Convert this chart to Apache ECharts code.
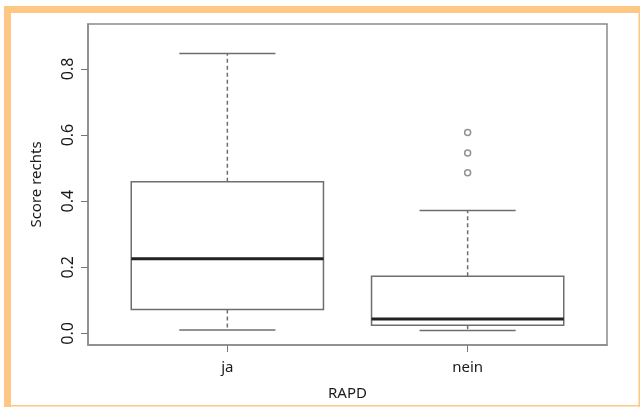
<!DOCTYPE html>
<html>
<head>
<meta charset="utf-8">
<style>
  html, body { margin: 0; padding: 0; background: #fff; }
  #main { width: 640px; height: 407px; }
</style>
<script src="https://cdn.jsdelivr.net/npm/echarts@6/dist/echarts.min.js"></script>
</head>
<body>
<div id="main"></div>
<script>
// 数据：两组箱线图（RAPD ja / nein）
const categories = ['ja', 'nein'];
const positions = [1, 2];
const lowerWhisker = [0.010, 0.009];
const q1 = [0.0725, 0.025];
const median = [0.226, 0.044];
const q3 = [0.459, 0.173];
const upperWhisker = [0.847, 0.372];
const outliers = [[], [0.608, 0.546, 0.486]];
const yTicks = [0, 0.2, 0.4, 0.6, 0.8];

const boxData = positions.map((p, i) => [p, lowerWhisker[i], q1[i], median[i], q3[i], upperWhisker[i]]);
const outlierData = [];
outliers.forEach((list, i) => list.forEach(v => outlierData.push([positions[i], v])));

const orange = '#fec784';
const lineGray = '#6e6e6e';

function renderBox(params, api) {
    const x = api.value(0);
    const lo = api.value(1), a = api.value(2), m = api.value(3), b = api.value(4), hi = api.value(5);
    const half = 0.4, cap = 0.2;
    const pL = api.coord([x - half, b]);
    const pR = api.coord([x + half, a]);
    const c = (xx, yy) => api.coord([xx, yy]);
    const solid = { stroke: lineGray, lineWidth: 1.5, fill: null };
    const dashed = { stroke: lineGray, lineWidth: 1.5, lineDash: [4, 3] };
    return {
        type: 'group',
        children: [
            { type: 'line', shape: { x1: c(x, b)[0], y1: c(x, b)[1], x2: c(x, hi)[0], y2: c(x, hi)[1] }, style: dashed },
            { type: 'line', shape: { x1: c(x, a)[0], y1: c(x, a)[1], x2: c(x, lo)[0], y2: c(x, lo)[1] }, style: dashed },
            { type: 'line', shape: { x1: c(x - cap, hi)[0], y1: c(x - cap, hi)[1], x2: c(x + cap, hi)[0], y2: c(x + cap, hi)[1] }, style: solid },
            { type: 'line', shape: { x1: c(x - cap, lo)[0], y1: c(x - cap, lo)[1], x2: c(x + cap, lo)[0], y2: c(x + cap, lo)[1] }, style: solid },
            { type: 'rect', shape: { x: pL[0], y: pL[1], width: pR[0] - pL[0], height: pR[1] - pL[1] }, style: { stroke: lineGray, lineWidth: 1.5, fill: '#fff' } },
            { type: 'line', shape: { x1: c(x - half, m)[0], y1: c(x - half, m)[1], x2: c(x + half, m)[0], y2: c(x + half, m)[1] }, style: { stroke: '#222', lineWidth: 3 } }
        ]
    };
}

function initChart() {
    const myChart = echarts.init(document.getElementById('main'));
    const option = {
        backgroundColor: '#fff',
        animation: false,
        textStyle: { fontFamily: 'Noto Sans' },
        graphic: [
            { type: 'rect', shape: { x: 4, y: 6, width: 636, height: 7 }, style: { fill: orange } },
            { type: 'rect', shape: { x: 4, y: 6, width: 7, height: 401 }, style: { fill: orange } },
            { type: 'rect', shape: { x: 638.5, y: 6, width: 1.5, height: 401 }, style: { fill: orange } },
            { type: 'rect', shape: { x: 4, y: 405, width: 636, height: 1.5 }, style: { fill: orange } }
        ],
        grid: {
            left: 88, right: 33, top: 24, bottom: 62,
            show: true, borderColor: '#8a8a8a', borderWidth: 1.5
        },
        xAxis: {
            type: 'value',
            min: 0.42, max: 2.58,
            name: 'RAPD',
            nameLocation: 'middle',
            nameGap: 41,
            nameTextStyle: { color: '#1a1a1a', fontSize: 15 },
            splitLine: { show: false },
            axisLine: { show: true, onZero: false, lineStyle: { color: '#8a8a8a', width: 1.5 } },
            axisTick: { show: true, customValues: positions, length: 7, lineStyle: { color: '#777' } },
            axisLabel: {
                customValues: positions,
                color: '#1a1a1a', fontSize: 15, margin: 15,
                formatter: v => categories[positions.indexOf(Math.round(v))] || ''
            }
        },
        yAxis: {
            type: 'value',
            min: -0.035, max: 0.936,
            name: 'Score rechts',
            nameLocation: 'middle',
            nameRotate: 90,
            nameGap: 44,
            nameTextStyle: { color: '#1a1a1a', fontSize: 15 },
            splitLine: { show: false },
            axisLine: { show: true, onZero: false, lineStyle: { color: '#8a8a8a', width: 1.5 } },
            axisTick: { show: true, customValues: yTicks, length: 7, lineStyle: { color: '#777' } },
            axisLabel: {
                customValues: yTicks,
                rotate: 90,
                color: '#1a1a1a', fontSize: 16, margin: 12,
                formatter: v => v.toFixed(1)
            }
        },
        series: [
            {
                type: 'custom',
                renderItem: renderBox,
                data: boxData,
                encode: { x: 0, y: [1, 5] }
            },
            {
                type: 'scatter',
                data: outlierData,
                symbol: 'circle',
                symbolSize: 6,
                itemStyle: { color: '#fff', borderColor: '#777', borderWidth: 1.5 }
            }
        ]
    };
    myChart.setOption(option);
    window.addEventListener('resize', () => myChart.resize());
}

window.onload = initChart;
</script>
</body>
</html>
